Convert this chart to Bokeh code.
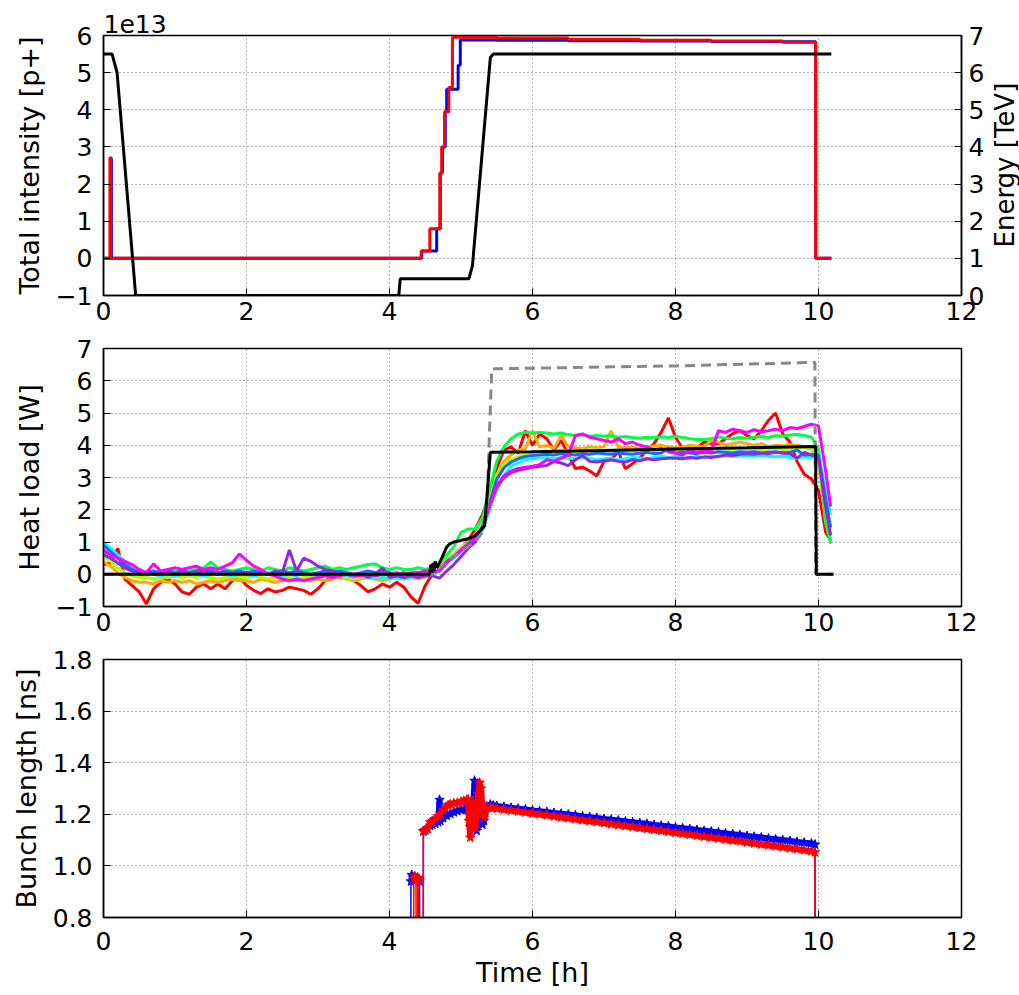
import numpy as np
from bokeh.plotting import figure
from bokeh.layouts import column, row
from bokeh.models import Range1d, LinearAxis, FixedTicker, CustomJSTickFormatter
from bokeh.core.properties import value
from bokeh.embed import file_html
from bokeh.resources import INLINE

FONT = "DejaVu Sans"

# ---------------- Top panel: total intensity (1e13 p+) and energy ----------------
b1_int_t = [0.0, 0.10, 0.11, 4.45, 4.66, 4.71, 4.74, 4.78, 4.80, 4.96, 4.99, 5.5, 6.5, 7.5, 8.5, 9.5, 9.96, 10.18]
b1_int_v = [0.0, 2.7, 0.0, 0.2, 0.8, 2.3, 3.0, 3.95, 4.55, 5.2, 5.88, 5.87, 5.86, 5.85, 5.84, 5.83, 0.0, 0.0]
b2_int_t = [0.0, 0.09, 0.10, 4.443, 4.564, 4.704, 4.73, 4.77, 4.83, 4.88, 5.5, 6.5, 7.5, 8.5, 9.5, 9.96, 10.18]
b2_int_v = [0.0, 2.7, 0.0, 0.2, 0.8, 2.3, 3.0, 3.95, 4.6, 5.95, 5.93, 5.9, 5.87, 5.85, 5.82, 0.0, 0.0]
energy_t = [0.0, 0.12, 0.19, 0.45, 4.13, 4.15, 5.11, 5.16, 5.41, 5.45, 10.18]
energy_v = [6.5, 6.5, 6.0, 0.0, 0.0, 0.45, 0.45, 0.8, 6.4, 6.5, 6.5]

# ---------------- Middle panel: heat load [W] ----------------
t_hl = [0.0, 0.1, 0.2, 0.3, 0.4, 0.5, 0.6, 0.7, 0.8, 0.9,
        1.0, 1.1, 1.2, 1.3, 1.4, 1.5, 1.6, 1.7, 1.8, 1.9,
        2.0, 2.1, 2.2, 2.3, 2.4, 2.5, 2.6, 2.7, 2.8, 2.9,
        3.0, 3.1, 3.2, 3.3, 3.4, 3.5, 3.6, 3.7, 3.8, 3.9,
        4.0, 4.1, 4.2, 4.3, 4.4, 4.5, 4.6, 4.7, 4.8, 4.9,
        5.0, 5.1, 5.2, 5.3, 5.4, 5.5, 5.6, 5.7, 5.8, 5.9,
        6.0, 6.1, 6.2, 6.3, 6.4, 6.5, 6.6, 6.7, 6.8, 6.9,
        7.0, 7.1, 7.2, 7.3, 7.4, 7.5, 7.6, 7.7, 7.8, 7.9,
        8.0, 8.1, 8.2, 8.3, 8.4, 8.5, 8.6, 8.7, 8.8, 8.9,
        9.0, 9.1, 9.2, 9.3, 9.4, 9.5, 9.6, 9.7, 9.8, 9.9,
        10.0, 10.1, 10.17]

hl_red = [0.30, 0.35, 0.80, -0.15, -0.35, -0.55, -0.92, -0.45, -0.25, -0.15,
          -0.30, -0.55, -0.62, -0.40, -0.30, -0.45, -0.30, -0.45, -0.20, -0.10,
          -0.35, -0.50, -0.60, -0.45, -0.55, -0.50, -0.40, -0.45, -0.50, -0.62,
          -0.45, -0.20, -0.10, -0.10, -0.05, -0.20, -0.35, -0.55, -0.45, -0.30,
          -0.40, -0.25, -0.40, -0.70, -0.90, -0.35, 0.00, 0.15, 0.45, 0.60,
          0.80, 1.05, 1.40, 1.85, 2.50, 3.30, 3.85, 3.95, 3.75, 4.45,
          4.00, 4.35, 4.20, 3.85, 4.15, 3.70, 3.28, 3.32, 3.20, 3.05,
          3.50, 3.55, 3.80, 3.27, 3.43, 3.60, 3.85, 4.05, 4.40, 4.85,
          4.25, 3.90, 3.95, 3.92, 4.10, 4.05, 4.05, 4.20, 4.36, 4.46,
          4.30, 4.20, 4.45, 4.77, 5.00, 4.35, 4.10, 3.50, 3.10, 2.95,
          2.60, 1.30, 1.05]
hl_orange = [0.40, 0.25, 0.05, -0.10, -0.20, -0.25, -0.25, -0.30, -0.20, -0.25,
             -0.20, -0.25, -0.20, -0.30, -0.25, -0.20, -0.25, -0.20, -0.15, -0.20,
             -0.20, -0.25, -0.15, -0.20, -0.25, -0.20, -0.15, -0.20, -0.15, -0.20,
             -0.15, -0.20, -0.15, -0.10, -0.15, -0.20, -0.15, -0.10, -0.15, -0.20,
             -0.15, -0.10, -0.15, -0.10, -0.15, -0.10, 0.00, 0.15, 0.45, 0.55,
             0.80, 1.00, 1.25, 1.55, 2.30, 3.10, 3.50, 3.70, 3.85, 3.90,
             4.45, 3.95, 4.00, 3.90, 4.30, 3.95, 3.92, 3.90, 3.95, 3.92,
             3.95, 4.45, 3.95, 3.92, 3.95, 3.90, 3.95, 3.98, 4.00, 3.95,
             3.92, 3.95, 4.00, 3.98, 3.95, 4.15, 4.10, 4.00, 4.05, 4.10,
             4.05, 4.00, 4.05, 3.95, 4.00, 3.98, 4.02, 4.00, 3.95, 3.90,
             3.50, 1.60, 1.00]
hl_lime = [0.55, 0.40, 0.20, 0.05, -0.05, -0.10, -0.10, -0.15, -0.10, -0.10,
           -0.05, -0.10, -0.05, -0.10, -0.05, -0.10, -0.15, -0.10, -0.05, -0.10,
           -0.10, -0.05, -0.10, -0.15, -0.10, -0.05, -0.10, -0.15, -0.10, -0.05,
           -0.10, -0.05, -0.10, -0.05, -0.10, -0.15, -0.10, -0.05, -0.10, -0.05,
           -0.10, -0.05, -0.10, -0.05, 0.00, -0.05, 0.00, 0.15, 0.45, 0.60,
           0.80, 1.00, 1.20, 1.55, 2.35, 3.05, 3.40, 3.55, 3.65, 3.75,
           3.78, 3.80, 3.82, 3.80, 3.85, 3.82, 3.80, 3.85, 3.82, 3.86,
           3.84, 3.82, 3.86, 3.84, 3.82, 3.85, 3.88, 3.84, 3.86, 3.88,
           3.85, 3.88, 3.86, 3.84, 3.88, 3.86, 3.90, 3.88, 3.86, 3.90,
           3.88, 3.90, 3.86, 3.88, 3.90, 3.86, 3.88, 3.90, 3.92, 3.88,
           3.60, 1.80, 1.10]
hl_green = [0.70, 0.50, 0.35, 0.20, 0.10, 0.00, 0.05, 0.00, 0.05, 0.10,
            0.10, 0.05, 0.10, 0.15, 0.20, 0.38, 0.20, 0.15, 0.10, 0.15,
            0.20, 0.15, 0.10, 0.20, 0.15, 0.10, 0.20, 0.15, 0.10, 0.15,
            0.20, 0.25, 0.15, 0.20, 0.15, 0.20, 0.25, 0.30, 0.32, 0.20,
            0.15, 0.20, 0.15, 0.15, 0.20, 0.15, 0.20, 0.35, 0.60, 0.85,
            1.30, 1.40, 1.40, 1.75, 2.65, 3.50, 3.95, 4.20, 4.35, 4.40,
            4.38, 4.40, 4.38, 4.35, 4.38, 4.33, 4.30, 4.32, 4.28, 4.30,
            4.28, 4.30, 4.25, 4.27, 4.24, 4.22, 4.25, 4.23, 4.26, 4.24,
            4.28, 4.24, 4.20, 4.18, 4.18, 4.20, 4.26, 4.22, 4.20, 4.24,
            4.22, 4.25, 4.27, 4.24, 4.30, 4.28, 4.32, 4.33, 4.30, 4.25,
            3.90, 1.65, 0.95]
hl_cyan = [1.00, 0.80, 0.60, 0.40, 0.25, 0.10, 0.05, 0.00, -0.05, 0.00,
           -0.05, 0.00, 0.05, 0.00, -0.05, 0.00, 0.05, 0.00, -0.05, 0.00,
           0.00, -0.05, 0.00, 0.05, 0.00, -0.05, 0.00, -0.05, 0.05, 0.00,
           -0.05, 0.00, -0.05, 0.00, -0.05, -0.10, -0.05, -0.10, -0.15, -0.10,
           -0.15, -0.10, -0.15, -0.10, -0.05, -0.05, 0.00, 0.10, 0.35, 0.50,
           0.70, 0.90, 1.10, 1.35, 2.00, 2.60, 3.05, 3.35, 3.45, 3.55,
           3.58, 3.60, 3.62, 3.58, 3.62, 3.60, 3.58, 3.62, 3.60, 3.55,
           3.58, 3.60, 3.55, 3.58, 3.62, 3.60, 3.58, 3.62, 3.65, 3.62,
           3.65, 3.62, 3.60, 3.65, 3.62, 3.66, 3.64, 3.68, 3.65, 3.66,
           3.68, 3.65, 3.68, 3.66, 3.64, 3.66, 3.62, 3.60, 3.64, 3.62,
           3.75, 2.60, 1.85]
hl_blue = [0.90, 0.70, 0.50, 0.30, 0.15, 0.05, 0.05, 0.10, 0.05, 0.10,
           0.05, 0.10, 0.05, 0.10, 0.15, 0.10, 0.05, 0.10, 0.05, 0.10,
           0.05, 0.10, 0.05, 0.00, 0.05, 0.10, 0.05, 0.10, 0.05, 0.00,
           0.05, 0.10, 0.05, 0.10, 0.05, 0.00, 0.05, 0.10, 0.05, 0.10,
           0.05, 0.00, 0.05, 0.00, 0.05, 0.00, 0.05, 0.12, 0.40, 0.55,
           0.75, 0.95, 1.15, 1.45, 2.20, 2.95, 3.30, 3.48, 3.58, 3.65,
           3.68, 3.70, 3.72, 3.70, 3.74, 3.72, 3.70, 3.74, 3.72, 3.76,
           3.74, 3.72, 3.76, 3.74, 3.72, 3.75, 3.78, 3.74, 3.76, 3.90,
           3.76, 3.78, 3.76, 3.74, 3.78, 3.76, 3.80, 3.78, 3.76, 3.80,
           3.78, 3.80, 3.76, 3.78, 3.80, 3.76, 3.78, 3.85, 3.70, 3.72,
           3.70, 2.30, 1.45]
hl_purple = [0.60, 0.50, 0.35, 0.20, 0.10, 0.05, 0.00, 0.05, 0.00, 0.05,
             0.00, 0.05, 0.00, 0.05, 0.10, 0.05, 0.00, 0.05, 0.00, 0.05,
             0.05, 0.00, 0.05, 0.00, 0.10, 0.05, 0.75, 0.10, 0.50, 0.40,
             0.25, 0.15, 0.10, 0.05, 0.00, -0.05, 0.00, -0.10, 0.00, 0.20,
             -0.10, -0.05, -0.10, -0.05, -0.10, -0.05, -0.05, -0.12, 0.10, 0.30,
             0.55, 0.80, 1.00, 1.50, 2.15, 2.70, 3.00, 3.15, 3.22, 3.27,
             3.32, 3.35, 3.37, 3.50, 3.45, 3.37, 3.55, 3.68, 3.50, 3.48,
             3.52, 3.55, 3.50, 3.48, 3.55, 3.52, 3.58, 3.55, 3.58, 3.60,
             3.60, 3.58, 3.62, 3.60, 3.64, 3.62, 3.66, 3.70, 3.68, 3.72,
             3.74, 3.72, 3.76, 3.74, 3.78, 3.76, 3.74, 3.60, 3.78, 3.70,
             3.60, 2.10, 1.20]
hl_magenta = [0.75, 0.60, 0.50, 0.40, 0.30, 0.15, 0.05, 0.32, 0.10, 0.15,
              0.20, 0.15, 0.20, 0.25, 0.15, 0.20, 0.15, 0.25, 0.35, 0.63,
              0.43, 0.25, 0.15, 0.00, -0.05, -0.15, -0.20, -0.15, -0.20, -0.15,
              -0.10, -0.05, -0.10, -0.05, 0.00, -0.05, -0.05, 0.00, -0.05, 0.00,
              0.00, 0.05, 0.00, 0.05, 0.05, 0.10, 0.10, 0.10, 0.35, 0.55,
              0.75, 0.90, 1.10, 1.45, 2.10, 2.75, 3.05, 3.20, 3.28, 3.32,
              3.35, 3.40, 3.55, 3.50, 3.60, 3.70, 4.30, 4.35, 4.25, 4.20,
              4.15, 4.10, 4.20, 4.05, 4.10, 4.00, 3.95, 3.85, 3.90, 3.80,
              3.75, 3.70, 3.85, 3.78, 3.82, 3.80, 4.45, 4.40, 4.50, 4.45,
              4.40, 4.48, 4.42, 4.45, 4.50, 4.45, 4.55, 4.52, 4.58, 4.65,
              4.60, 3.20, 2.10]

model_t = [0.0, 4.56, 4.58, 4.59, 4.61, 4.62, 4.64, 4.66, 4.70, 4.75, 4.80, 4.85, 4.90, 5.00, 5.10,
           5.20, 5.27, 5.33, 5.37, 5.41, 6.0, 7.0, 8.0, 9.0, 9.96, 9.97, 10.21]
model_v = [0.0, 0.0, 0.30, 0.05, 0.35, 0.10, 0.40, 0.20, 0.35, 0.60, 0.85, 0.95, 1.00, 1.05, 1.10,
           1.20, 1.36, 1.50, 2.60, 3.78, 3.80, 3.84, 3.88, 3.92, 3.96, 0.0, 0.0]
imp_sr_t = [0.0, 4.6, 4.8, 5.0, 5.2, 5.3, 5.36, 5.43, 6.0, 8.0, 9.95, 9.96, 10.21]
imp_sr_v = [0.0, 0.0, 0.4, 0.7, 1.0, 1.3, 2.0, 6.37, 6.39, 6.46, 6.57, 0.0, 0.0]

hl_series = [
    (hl_red, "#ff0000"), (hl_orange, "#ffaa00"), (hl_lime, "#aaff00"), (hl_green, "#00ff44"),
    (hl_cyan, "#00ffff"), (hl_blue, "#1a66ff"), (hl_purple, "#8a2be2"), (hl_magenta, "#ff00ff"),
]

# ---------------- Bottom panel: bunch length [ns] ----------------
bl_b1_t = [4.29, 4.30, 4.31, 4.33, 4.35, 4.37, 4.40, 4.42, 4.43, 4.47, 4.475, 4.50, 4.53, 4.57, 4.60,
           4.64, 4.68, 4.70, 4.71, 4.75, 4.80, 4.85, 4.90, 4.95, 5.00, 5.05, 5.08, 5.11, 5.13, 5.16,
           5.19, 5.21, 5.22, 5.25, 5.27, 5.30, 5.32, 5.36, 5.41, 5.45,
           5.5, 5.6, 5.7, 5.8, 5.9, 6.0, 6.1, 6.2, 6.3, 6.4, 6.5, 6.6, 6.7, 6.8, 6.9,
           7.0, 7.1, 7.2, 7.3, 7.4, 7.5, 7.6, 7.7, 7.8, 7.9, 8.0, 8.1, 8.2, 8.3, 8.4,
           8.5, 8.6, 8.7, 8.8, 8.9, 9.0, 9.1, 9.2, 9.3, 9.4, 9.5, 9.6, 9.7, 9.8, 9.9,
           9.95, 9.955]
bl_b1_v = [0.0, 0.94, 0.965, 0.955, 0.95, 0.945, 0.95, 0.94, 0.0, 0.0, 1.134, 1.138, 1.145, 1.156, 1.160,
           1.163, 1.170, 1.256, 1.175, 1.185, 1.195, 1.202, 1.208, 1.213, 1.217, 1.220, 1.221, 1.200, 1.150, 1.190,
           1.330, 1.200, 1.136, 1.190, 1.175, 1.160, 1.175, 1.230, 1.238, 1.234,
           1.232, 1.229, 1.225, 1.222, 1.219, 1.215, 1.212, 1.209, 1.205, 1.202, 1.199, 1.196, 1.192, 1.189, 1.186,
           1.182, 1.179, 1.176, 1.172, 1.169, 1.166, 1.163, 1.159, 1.156, 1.153, 1.149, 1.146, 1.143, 1.139, 1.136,
           1.133, 1.130, 1.126, 1.123, 1.120, 1.116, 1.113, 1.110, 1.106, 1.103, 1.100, 1.097, 1.093, 1.090, 1.087,
           1.083, 0.0]
bl_b2_t = [4.33, 4.34, 4.355, 4.37, 4.38, 4.39, 4.395, 4.41, 4.42, 4.47, 4.472, 4.50, 4.53, 4.57, 4.60,
           4.64, 4.68, 4.71, 4.75, 4.78, 4.82, 4.85, 4.90, 4.95, 5.00, 5.04, 5.08, 5.10, 5.11, 5.13,
           5.14, 5.16, 5.18, 5.20, 5.22, 5.24, 5.26, 5.28, 5.30, 5.32, 5.34, 5.37, 5.41, 5.45,
           5.5, 5.6, 5.7, 5.8, 5.9, 6.0, 6.1, 6.2, 6.3, 6.4, 6.5, 6.6, 6.7, 6.8, 6.9,
           7.0, 7.1, 7.2, 7.3, 7.4, 7.5, 7.6, 7.7, 7.8, 7.9, 8.0, 8.1, 8.2, 8.3, 8.4,
           8.5, 8.6, 8.7, 8.8, 8.9, 9.0, 9.1, 9.2, 9.3, 9.4, 9.5, 9.6, 9.7, 9.8, 9.9,
           9.95, 9.952]
bl_b2_v = [0.0, 0.95, 0.96, 0.95, 0.0, 0.0, 0.955, 0.95, 0.0, 0.0, 1.134, 1.140, 1.143, 1.169, 1.175,
           1.182, 1.192, 1.200, 1.215, 1.226, 1.235, 1.239, 1.243, 1.245, 1.249, 1.252, 1.256, 1.258, 1.174, 1.110,
           1.160, 1.250, 1.200, 1.148, 1.200, 1.278, 1.323, 1.300, 1.226, 1.187, 1.220, 1.226, 1.226, 1.224,
           1.222, 1.218, 1.215, 1.211, 1.207, 1.203, 1.200, 1.196, 1.192, 1.188, 1.185, 1.181, 1.177, 1.173, 1.170,
           1.166, 1.162, 1.158, 1.155, 1.151, 1.147, 1.143, 1.140, 1.136, 1.132, 1.128, 1.125, 1.121, 1.117, 1.113,
           1.110, 1.106, 1.102, 1.098, 1.095, 1.091, 1.087, 1.083, 1.080, 1.076, 1.072, 1.068, 1.065, 1.061, 1.057,
           1.053, 0.0]

x_ticks = [0, 2, 4, 6, 8, 10, 12]
int_ticks = [-1, 0, 1, 2, 3, 4, 5, 6]
energy_ticks = [0, 1, 2, 3, 4, 5, 6, 7]
hl_ticks = [-1, 0, 1, 2, 3, 4, 5, 6, 7]
bl_ticks = [0.8, 1.0, 1.2, 1.4, 1.6, 1.8]
energy_label = "Energy [TeV]"

int_fmt = CustomJSTickFormatter(code="return tick < 0 ? '\\u2212' + Math.abs(tick).toFixed(0) : tick.toFixed(0);")
bl_fmt = CustomJSTickFormatter(code="return tick.toFixed(1);")


def style_axis(ax, is_x):
    ax.major_label_text_font = FONT
    ax.major_label_text_font_size = "25px"
    ax.major_label_text_color = "black"
    ax.axis_label_text_font = FONT
    ax.axis_label_text_font_size = "27px"
    ax.axis_label_text_font_style = "normal"
    ax.axis_label_text_color = "black"
    ax.major_tick_in = 7
    ax.major_tick_out = 0
    ax.major_tick_line_color = "black"
    ax.minor_tick_line_color = None
    ax.axis_line_color = "black"
    ax.axis_line_width = 1.5
    ax.major_label_standoff = 6 if is_x else 11
    ax.axis_label_standoff = 8


def make_fig(frame_h, top, bottom, right, y_range, title=None):
    kw = {}
    if title is not None:
        kw["title"] = title
    p = figure(frame_width=858, frame_height=frame_h, min_border_left=103, min_border_right=right,
               min_border_top=top, min_border_bottom=bottom, x_range=Range1d(0, 12), y_range=y_range,
               output_backend="svg", toolbar_location=None, background_fill_color="white",
               border_fill_color="white", **kw)
    p.outline_line_color = "black"
    p.outline_line_width = 1.5
    p.outline_line_alpha = 1.0
    p.grid.grid_line_color = "#666666"
    p.grid.grid_line_dash = "1 3"
    p.grid.grid_line_width = 1
    p.xaxis.ticker = FixedTicker(ticks=x_ticks)
    style_axis(p.xaxis[0], True)
    style_axis(p.yaxis[0], False)
    return p


# ---- top
p1 = make_fig(260, 35, 36, 25, Range1d(-1, 6), title="1e13")
p1.title.text_font = FONT
p1.title.text_font_size = "25px"
p1.title.text_font_style = "normal"
p1.title.text_color = "black"
p1.title.align = "left"
p1.title.offset = 0
p1.title.standoff = 5
p1.yaxis[0].ticker = FixedTicker(ticks=int_ticks)
p1.yaxis[0].formatter = int_fmt
p1.yaxis[0].axis_label = "Total intensity [p+]"
p1.extra_y_ranges = {"energy": Range1d(0, 7)}
ax_e = LinearAxis(y_range_name="energy", ticker=FixedTicker(ticks=energy_ticks))
style_axis(ax_e, False)
ax_e.major_label_standoff = 7
p1.add_layout(ax_e, "right")
p1.step(b1_int_t, b1_int_v, mode="after", line_color="#0000ff", line_width=3)
p1.step(b2_int_t, b2_int_v, mode="after", line_color="#ff0000", line_width=3)
p1.line(energy_t, energy_v, y_range_name="energy", line_color="black", line_width=3)

# right-hand axis title of the top panel, in a narrow strip beside it
p_lab = figure(width=33, height=331, x_range=Range1d(0, 33), y_range=Range1d(0, 331),
               min_border=0, output_backend="svg", toolbar_location=None,
               background_fill_color="white", border_fill_color="white")
p_lab.axis.visible = False
p_lab.grid.visible = False
p_lab.outline_line_color = None
p_lab.text(x=[17], y=[166], text=[energy_label], angle=np.pi / 2, text_align="center",
           text_baseline="middle", text_font=value(FONT), text_font_size="26px", text_color="black")

# ---- middle
p2 = make_fig(258, 17, 36, 58, Range1d(-1, 7))
p2.yaxis[0].ticker = FixedTicker(ticks=hl_ticks)
p2.yaxis[0].formatter = int_fmt
p2.yaxis[0].axis_label = "Heat load [W]"
for vals, col in hl_series:
    p2.line(t_hl, vals, line_color=col, line_width=3)
p2.line(imp_sr_t, imp_sr_v, line_color="#888888", line_width=3, line_dash="10 6")
p2.line(model_t, model_v, line_color="black", line_width=3)

# ---- bottom
p3 = make_fig(258, 17, 78, 58, Range1d(0.8, 1.8))
p3.yaxis[0].ticker = FixedTicker(ticks=bl_ticks)
p3.yaxis[0].formatter = bl_fmt
p3.yaxis[0].axis_label = "Bunch length [ns]"
p3.xaxis[0].axis_label = "Time [h]"
p3.xaxis[0].major_label_standoff = 14
p3.xaxis[0].axis_label_standoff = 4
for tt, vv, col in [(bl_b1_t, bl_b1_v, "#0000ff"), (bl_b2_t, bl_b2_v, "#ff0000")]:
    ta = np.array(tt)
    va = np.array(vv)
    p3.line(ta, va, line_color=col, line_width=1.5)
    band = (va > 0.5) & (ta > 4.46)
    p3.line(ta[band], va[band], line_color=col, line_width=6)
    p3.scatter(ta, va, marker="star", size=10, fill_color=col, line_color=col)

layout = column(row(p1, p_lab), p2, p3)
open("out.html", "w").write(file_html(layout, INLINE))
